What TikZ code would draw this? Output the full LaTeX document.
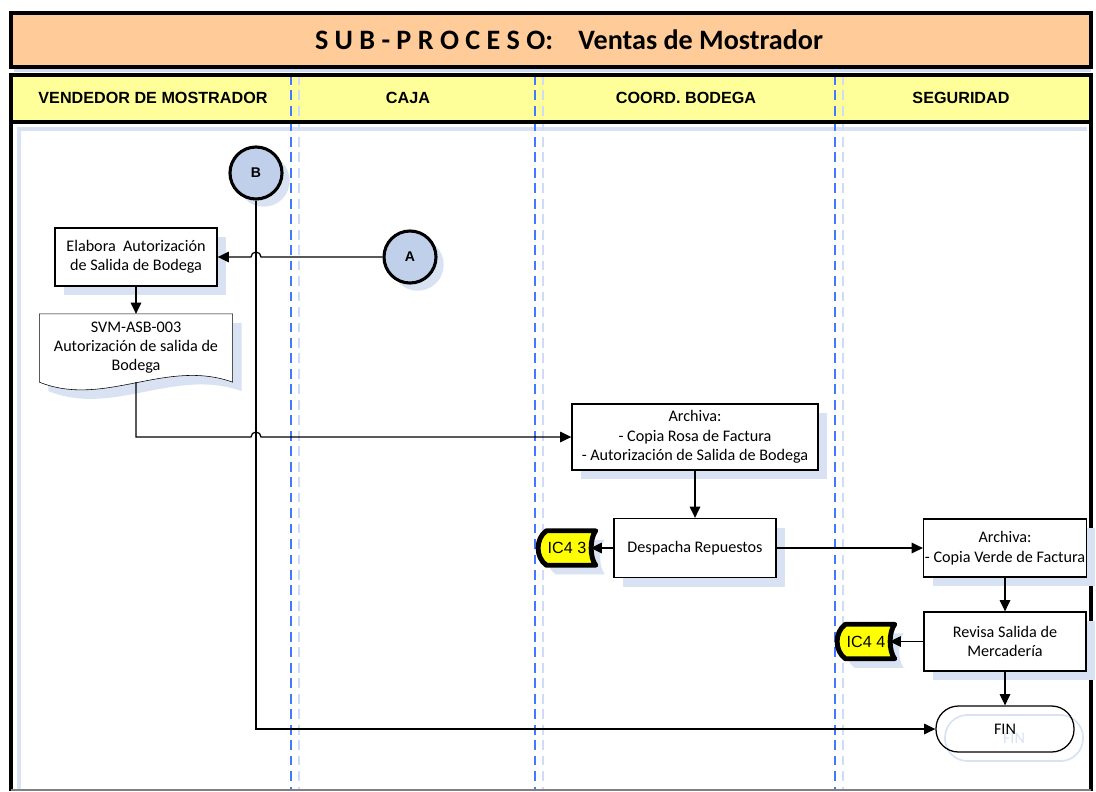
\documentclass[tikz,border=0pt]{standalone}
\usepackage{fontspec}
\setmainfont{Carlito}
\newfontfamily\arialfont{Liberation Sans}
\usetikzlibrary{arrows.meta,shadows,backgrounds,calc}

\definecolor{peach}{RGB}{255,204,153}
\definecolor{hdryellow}{RGB}{255,255,153}
\definecolor{shblue}{RGB}{216,226,243}
\definecolor{laneblue}{RGB}{70,120,255}
\definecolor{lanepale}{RGB}{208,220,242}
\definecolor{cirblue}{RGB}{192,208,234}
\definecolor{tagyellow}{RGB}{255,255,0}

% outlines of the document shape and of the connector tags
\newcommand\docoutline{(svm.north west) -- (svm.north east) -- (svm.south east) .. controls +(-67,-24) and +(65,26) .. (svm.south west) -- cycle}
\newcommand\tagoutline[1]{($(#1.north west)+(8,0)$) -- (#1.north east) .. controls +(-6,8) and +(-6,-8) .. (#1.south east) -- ($(#1.south west)+(8,0)$) .. controls +(-11,-8) and +(-11,8) .. ($(#1.north west)+(8,0)$) -- cycle}

\begin{document}
\begin{tikzpicture}[x=0.025cm,y=-0.025cm,line width=0.9pt,>={Triangle[length=8pt,width=7.5pt]},
  box/.style={draw,fill=white,align=center,inner sep=1pt,font=\fontsize{11.5}{13.8}\selectfont,
    general shadow={fill=shblue,shadow xshift=6.4pt,shadow yshift=-6.4pt}},
  doctext/.style={align=center,inner sep=1pt,font=\fontsize{11.5}{13.5}\selectfont},
  conn/.style={circle,draw,line width=2.2pt,fill=cirblue,minimum size=1.3cm,inner sep=0pt,
    font=\arialfont\bfseries\fontsize{10}{12}\selectfont,
    general shadow={fill=shblue,shadow xshift=5.5pt,shadow yshift=-5.5pt}},
  tagtext/.style={minimum width=1.4cm,minimum height=0.83cm,inner sep=0pt,font=\arialfont\fontsize{11.5}{14}\selectfont},
  hdr/.style={font=\arialfont\bfseries\fontsize{11.5}{13}\selectfont},
  lane/.style={draw=laneblue,line width=1pt,dash pattern=on 7pt off 4pt},
  lanelight/.style={draw=lanepale,line width=1pt,dash pattern=on 7pt off 4pt}]
\useasboundingbox (0,0) rectangle (1096,791);

% title and pool
\begin{scope}[on background layer]
\draw[fill=peach,line width=2.2pt] (11,13) rectangle (1091,67);
\fill[lanepale] (14,68.5) rectangle (1091,72);
\fill[hdryellow] (11,75) rectangle (1091,122);
\draw[shblue,line width=3pt] (19,791) -- (19,129) -- (1087,129);
\foreach \x in {291,535,835} {
  \draw[lane] (\x,75) -- (\x,791);
  \draw[lanelight] (\x+8,75) -- (\x+8,791);
}
\draw[line width=2.2pt] (11,791) -- (11,75) -- (1091,75) -- (1091,791);
\draw[line width=2.2pt] (11,122) -- (1091,122);
\draw[gray,line width=0.8pt] (11,790) -- (1091,790);
\end{scope}

\node (title) at (569,40) {\fontsize{20}{24}\selectfont\bfseries S U B - P R O C E S O:\hspace{0.9em}Ventas de Mostrador};
\foreach \x/\t [count=\i] in {153/VENDEDOR DE MOSTRADOR,408/CAJA,686/COORD. BODEGA,961/SEGURIDAD}
  \node[hdr] (h\i) at (\x,98) {\t};

% connectors A and B
\node[conn] (B) at (256,173) {B};
\node[conn] (A) at (410,257) {A};

% vendedor de mostrador
\node[box,minimum width=4.05cm,minimum height=1.45cm] (elab) at (136,257) {Elabora\ \ Autorización\\de Salida de Bodega};
\node[doctext,minimum width=4.8cm,minimum height=1.675cm] (svm) at (136,348) {SVM-ASB-003\\Autorización de salida de\\Bodega};

% coord. bodega
\node[box,minimum width=6.15cm,minimum height=1.65cm] (archA) at (695,437) {Archiva:\\- Copia Rosa de Factura\\- Autorización de Salida de Bodega};
\node[box,minimum width=4.05cm,minimum height=1.475cm] (desp) at (695,548) {Despacha Repuestos};
\node[tagtext] (ic3) at (567,548) {IC4 3};

% seguridad
\node[box,minimum width=4.05cm,minimum height=1.45cm] (arch2) at (1005,548) {Archiva:\\- Copia Verde de Factura};
\node[box,minimum width=4.05cm,minimum height=1.475cm] (rev) at (1005,641.5) {Revisa Salida de\\Mercadería};
\node[tagtext] (ic4) at (866,641.5) {IC4 4};
\node[draw=shblue,line width=1.2pt,text=shblue,rounded corners=16pt,minimum width=3.45cm,minimum height=1.15cm,font=\fontsize{11.5}{14}\selectfont] (finsh) at (1014,738) {FIN};
\node[draw,rounded corners=16pt,minimum width=3.45cm,minimum height=1.15cm,font=\fontsize{11.5}{14}\selectfont] (fin) at (1005,729) {FIN};

\begin{scope}[on background layer]
\begin{scope}[transform canvas={xshift=6.4pt,yshift=-6.4pt}]
\fill[shblue] \docoutline;
\end{scope}
\draw[fill=white] \docoutline;
\foreach \t in {ic3,ic4} {
  \begin{scope}[transform canvas={xshift=6.4pt,yshift=-6.4pt}]
  \fill[shblue] \tagoutline{\t};
  \end{scope}
  \draw[fill=tagyellow,line width=3.5pt,line join=round] \tagoutline{\t};
}
\end{scope}

% flow
\coordinate (j0) at (256,257);
\coordinate (j1) at (256,437);
\draw[->] (B.south) |- (fin.west);
\draw[->] (A.west) -- ($(j0)+(5,0)$) arc(0:-180:5) -- (elab.east);
\draw[->] (elab.south) -- (svm.north);
\draw[->] (svm.south) |- ($(j1)+(-5,0)$) arc(180:360:5) -- (archA.west);
\draw[->] (archA.south) -- (desp.north);
\draw[->] (desp.west) -- ($(ic3.east)+(-5,0)$);
\draw[->] (desp.east) -- (arch2.west);
\draw[->] (arch2.south) -- (rev.north);
\draw[->] (rev.west) -- ($(ic4.east)+(-5,0)$);
\draw[->] (rev.south) -- (fin.north);
\end{tikzpicture}
\end{document}
